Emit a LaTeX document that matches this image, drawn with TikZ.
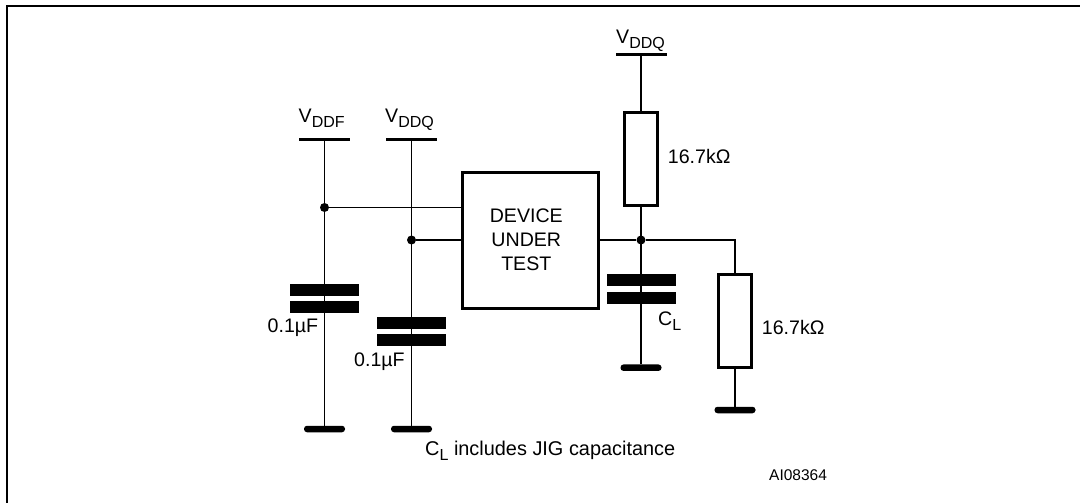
\documentclass[tikz,border=0pt]{standalone}
\usepackage{fontspec}
\setmainfont{Liberation Sans}
\newcommand{\lowsub}[1]{\raisebox{-5pt}{\fontsize{16}{16}\selectfont #1}}
\tikzset{
  wire/.style={line width=1.5pt},
  rail/.style={fill=black,inner sep=0,outer sep=0,minimum width=51pt,minimum height=3.4pt},
  gnd/.style={fill=black,inner sep=0,outer sep=0,minimum width=41pt,minimum height=6.5pt,rounded corners=3pt},
  plate/.style={fill=black,inner sep=0,outer sep=0,minimum width=69pt,minimum height=12pt},
  res/.style={draw,line width=3pt,inner sep=0,outer sep=0,minimum width=33pt,minimum height=93pt},
  dot/.style={circle,fill=black,inner sep=0,minimum size=9pt},
  lbl/.style={anchor=base west,inner sep=0,font=\fontsize{19.6}{24}\selectfont},
}

\begin{document}
\begin{tikzpicture}[x=1pt,y=-1pt]
    \useasboundingbox (0,0) rectangle (1080,503);
    \draw[line width=2pt] (6.5,503) -- (6.5,6) -- (1080,6);

    \node[draw,line width=3pt,inner sep=0,outer sep=0,minimum width=136pt,minimum height=135.5pt] (dut) at (530.5,240.25) {};
    \node[lbl,anchor=base] (dutone) at (526.3,222.7) {DEVICE};
    \node[lbl,anchor=base] (duttwo) at (526.3,246.7) {UNDER};
    \node[lbl,anchor=base] (dutthree) at (526.3,270.7) {TEST};

    \node[rail] (vddf) at (324.5,139.5) {};
    \node[rail] (vddql) at (411.5,139.5) {};
    \node[rail] (vddqr) at (641,54.5) {};
    \node[gnd] (gndf) at (324.5,429) {};
    \node[gnd] (gndq) at (411.5,429) {};
    \node[gnd] (gndc) at (641,367.7) {};
    \node[gnd] (gndr) at (735,410) {};

    \node[res] (rtop) at (641,159) {};
    \node[res] (rbot) at (735,321) {};

    \foreach \name/\x/\ya/\yb in {cf/324.5/290/307, cq/411.5/322.5/340, cl/641.5/280/298} {
      \node[plate] (\name a) at (\x,\ya) {};
      \node[plate] (\name b) at (\x,\yb) {};
    }

    \node[dot] (dotf) at (324.5,207.5) {};
    \node[dot] (dotq) at (411.5,240) {};
    \node[dot] (dotr) at (641,240) {};

    \draw[wire] (vddf) -- (gndf);
    \draw[wire] (vddql) -- (gndq);
    \draw[wire] (dotf) -- (dotf -| dut.west);
    \draw[wire] (dotq) -- (dotq -| dut.west);
    \draw[wire] (vddqr) -- (rtop.north);
    \draw[wire] (rtop.south) -- (gndc);
    \draw[wire] (dotr -| dut.east) -- (dotr) -- (dotr -| rbot.north) -- (rbot.north);
    \draw[wire] (rbot.south) -- (gndr);

    \node[lbl] (lvddf) at (298.5,122.7) {V\lowsub{DDF}};
    \node[lbl] (lvddql) at (385,122.7) {V\lowsub{DDQ}};
    \node[lbl] (lvddqr) at (616,44) {V\lowsub{DDQ}};
    \node[lbl] (lrtop) at (667.7,164) {16.7kΩ};
    \node[lbl] (lrbot) at (761.7,334) {16.7kΩ};
    \node[lbl] (lcf) at (267.5,332.7) {0.1µF};
    \node[lbl] (lcq) at (354,366) {0.1µF};
    \node[lbl] (lcl) at (658,325) {C\lowsub{L}};
    \node[lbl,font=\fontsize{19.9}{24}\selectfont] (lnote) at (425,455) {C\lowsub{L} includes JIG capacitance};
    \node[lbl,font=\fontsize{15.5}{16}\selectfont] (lref) at (769,480) {AI08364};
\end{tikzpicture}
\end{document}
